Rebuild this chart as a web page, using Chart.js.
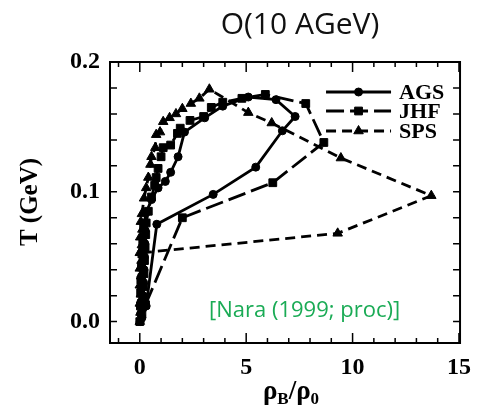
<!DOCTYPE html>
<html>
<head>
<meta charset="utf-8">
<script src="https://cdn.jsdelivr.net/npm/chart.js@4.4.1/dist/chart.umd.min.js"></script>
<style>
  html, body { margin: 0; padding: 0; background: #fff; }
  #wrap { width: 481px; height: 412px; }
</style>
</head>
<body>
<div id="wrap"><canvas id="tChart" width="481" height="412"></canvas></div>
<script>
// dados (rho_B/rho_0, T em GeV)
const agsRho = [0.3, 0.8, 3.45, 5.45, 6.7, 7.3, 6.4, 5.1, 3.9, 3.05, 2.1, 1.8, 1.45, 1.2, 0.86, 0.55, 0.3, 0.2, 0.26, 0.15, 0.24, 0.12, 0.22, 0.1, 0.2, 0.08, 0.18, 0.06, 0.16, 0.05, 0.14, 0.04, 0.1, 0.02];
const agsT   = [0.012, 0.075, 0.098, 0.119, 0.147, 0.158, 0.171, 0.173, 0.166, 0.157, 0.146, 0.127, 0.115, 0.108, 0.103, 0.094, 0.084, 0.075, 0.070, 0.065, 0.060, 0.055, 0.050, 0.045, 0.040, 0.035, 0.030, 0.025, 0.020, 0.015, 0.010, 0.006, 0.003, 0.0];

const jhfRho = [0.27, 2.0, 6.25, 8.65, 7.8, 5.9, 4.8, 3.9, 3.36, 3.0, 2.36, 1.9, 1.77, 1.45, 1.1, 1.0, 0.86, 0.77, 0.7, 0.55, 0.4, 0.3, 0.18, 0.28, 0.14, 0.25, 0.1, 0.22, 0.08, 0.2, 0.05, 0.17, 0.04, 0.14, 0.03, 0.1, 0.0];
const jhfT   = [0.013, 0.080, 0.107, 0.138, 0.168, 0.175, 0.172, 0.169, 0.165, 0.158, 0.155, 0.149, 0.145, 0.136, 0.134, 0.127, 0.118, 0.111, 0.105, 0.096, 0.085, 0.076, 0.072, 0.067, 0.062, 0.057, 0.052, 0.047, 0.042, 0.037, 0.032, 0.027, 0.022, 0.017, 0.012, 0.006, 0.0];

const spsRho = [0.1, 9.3, 13.7, 9.45, 6.2, 5.1, 3.27, 2.8, 2.4, 2.0, 1.7, 1.4, 1.1, 0.95, 0.77, 0.73, 0.55, 0.5, 0.4, 0.3, 0.2, 0.1, 0.05, 0.12, 0.02, 0.1, 0.0, 0.08, 0.0, 0.06, 0.0, 0.05, 0.0, 0.03, 0.0];
const spsT   = [0.053, 0.068, 0.097, 0.126, 0.153, 0.161, 0.179, 0.172, 0.168, 0.164, 0.160, 0.157, 0.154, 0.146, 0.144, 0.134, 0.127, 0.121, 0.111, 0.103, 0.095, 0.083, 0.077, 0.071, 0.065, 0.059, 0.053, 0.047, 0.041, 0.035, 0.028, 0.021, 0.014, 0.007, 0.0];

const xTicks = [0, 5, 10, 15];
const yTicks = [0.0, 0.1, 0.2];
const seriesNames = ['AGS', 'JHF', 'SPS'];

const serif = "'Liberation Serif', 'DejaVu Serif', serif";
const sans = "'Open Sans', 'Noto Sans', sans-serif";

function pontos(xs, ys) {
    return xs.map((x, i) => ({ x: x, y: ys[i] }));
}

const estilos = [
    { style: 'circle', radius: 4, dash: [] },
    { style: 'rect', radius: 5.5, dash: [18, 6] },
    { style: 'triangle', radius: 5.5, dash: [10, 6] }
];

function serie(nome, xs, ys, est) {
    return {
        label: nome,
        data: pontos(xs, ys),
        showLine: true,
        borderColor: '#000',
        backgroundColor: '#000',
        borderWidth: 2.8,
        borderDash: est.dash,
        pointStyle: est.style,
        pointRadius: est.radius,
        pointBorderWidth: 1,
        pointBackgroundColor: '#000',
        pointBorderColor: '#000'
    };
}

// moldura, ticks internos, titulos e legenda
const moldura = {
    id: 'moldura',
    afterDraw(chart) {
        const ctx = chart.ctx;
        const a = chart.chartArea;
        const xs = chart.scales.x;
        const ys = chart.scales.y;
        ctx.save();
        ctx.strokeStyle = '#000';
        ctx.lineWidth = 2;
        ctx.setLineDash([]);
        ctx.strokeRect(a.left, a.top, a.right - a.left, a.bottom - a.top);

        ctx.lineWidth = 1.5;
        ctx.beginPath();
        for (let v = -1; v <= 15; v++) {
            const px = xs.getPixelForValue(v);
            const len = v % 5 === 0 ? 10 : 5;
            ctx.moveTo(px, a.bottom); ctx.lineTo(px, a.bottom - len);
            ctx.moveTo(px, a.top); ctx.lineTo(px, a.top + len);
        }
        for (let k = 0; k <= 10; k++) {
            const py = ys.getPixelForValue(k * 0.02);
            ctx.moveTo(a.left, py); ctx.lineTo(a.left + 7, py);
            ctx.moveTo(a.right, py); ctx.lineTo(a.right - 7, py);
        }
        ctx.stroke();

        // titulo
        ctx.fillStyle = '#111';
        ctx.font = '30px ' + sans;
        ctx.textAlign = 'center';
        ctx.textBaseline = 'middle';
        ctx.fillText('O(10 AGeV)', 300, 25);

        // titulo eixo y
        ctx.save();
        ctx.translate(31, 202);
        ctx.rotate(-Math.PI / 2);
        ctx.fillStyle = '#000';
        ctx.font = 'bold 25px ' + serif;
        ctx.fillText('T (GeV)', 0, 0);
        ctx.restore();

        // titulo eixo x com subscritos
        ctx.fillStyle = '#000';
        ctx.textAlign = 'left';
        ctx.textBaseline = 'alphabetic';
        const partes = [['ρ', 27, 0], ['B', 17, 5], ['/ρ', 27, 0], ['0', 17, 5]];
        let larg = 0;
        partes.forEach(p => { ctx.font = 'bold ' + p[1] + 'px ' + serif; larg += ctx.measureText(p[0]).width; });
        let cx = 291 - larg / 2;
        partes.forEach(p => {
            ctx.font = 'bold ' + p[1] + 'px ' + serif;
            ctx.fillText(p[0], cx, 399 + p[2]);
            cx += ctx.measureText(p[0]).width;
        });

        // legenda
        const lx0 = a.right - 134, lx1 = a.right - 69, ly = [a.top + 30, a.top + 49, a.top + 69];
        chart.data.datasets.forEach((ds, i) => {
            ctx.strokeStyle = '#000';
            ctx.lineWidth = 2.8;
            ctx.setLineDash(estilos[i].dash);
            ctx.beginPath();
            ctx.moveTo(lx0, ly[i]); ctx.lineTo(lx1, ly[i]);
            ctx.stroke();
            ctx.setLineDash([]);
            ctx.fillStyle = '#000';
            ctx.lineWidth = 1;
            Chart.helpers.drawPoint(ctx, { pointStyle: estilos[i].style, radius: estilos[i].radius, rotation: 0, borderWidth: 1 }, (lx0 + lx1) / 2, ly[i]);
            ctx.font = 'bold 22px ' + serif;
            ctx.textBaseline = 'middle';
            ctx.fillText(ds.label, a.right - 61, ly[i] + 1);
        });

        // referencia
        ctx.fillStyle = '#1aab55';
        ctx.font = '22px ' + sans;
        ctx.textAlign = 'left';
        ctx.textBaseline = 'middle';
        ctx.fillText('[Nara (1999; proc)]', 209, 311);
        ctx.restore();
    }
};

const ctx = document.getElementById('tChart').getContext('2d');
const tChart = new Chart(ctx, {
    type: 'scatter',
    data: {
        datasets: [
            serie(seriesNames[0], agsRho, agsT, estilos[0]),
            serie(seriesNames[1], jhfRho, jhfT, estilos[1]),
            serie(seriesNames[2], spsRho, spsT, estilos[2])
        ]
    },
    options: {
        responsive: false,
        animation: false,
        layout: { padding: { top: 62, right: 9, left: 0, bottom: 0 } },
        plugins: {
            legend: { display: false },
            tooltip: { enabled: false },
            title: { display: false }
        },
        scales: {
            x: {
                type: 'linear',
                min: -1.4,
                max: 15.05,
                grid: { display: false, drawTicks: false },
                border: { display: false },
                afterBuildTicks: s => { s.ticks = xTicks.map(v => ({ value: v })); },
                afterFit: s => { s.height = 69; },
                ticks: {
                    color: '#000',
                    padding: 10,
                    maxRotation: 0,
                    font: { family: serif, size: 24, weight: 'bold' },
                    callback: v => String(v)
                }
            },
            y: {
                type: 'linear',
                min: -0.0165,
                max: 0.2,
                grid: { display: false, drawTicks: false },
                border: { display: false },
                afterBuildTicks: s => { s.ticks = yTicks.map(v => ({ value: v })); },
                afterFit: s => { s.width = 110; },
                ticks: {
                    color: '#000',
                    padding: 10,
                    font: { family: serif, size: 24, weight: 'bold' },
                    callback: v => v.toFixed(1)
                }
            }
        }
    },
    plugins: [moldura]
});
</script>
</body>
</html>
